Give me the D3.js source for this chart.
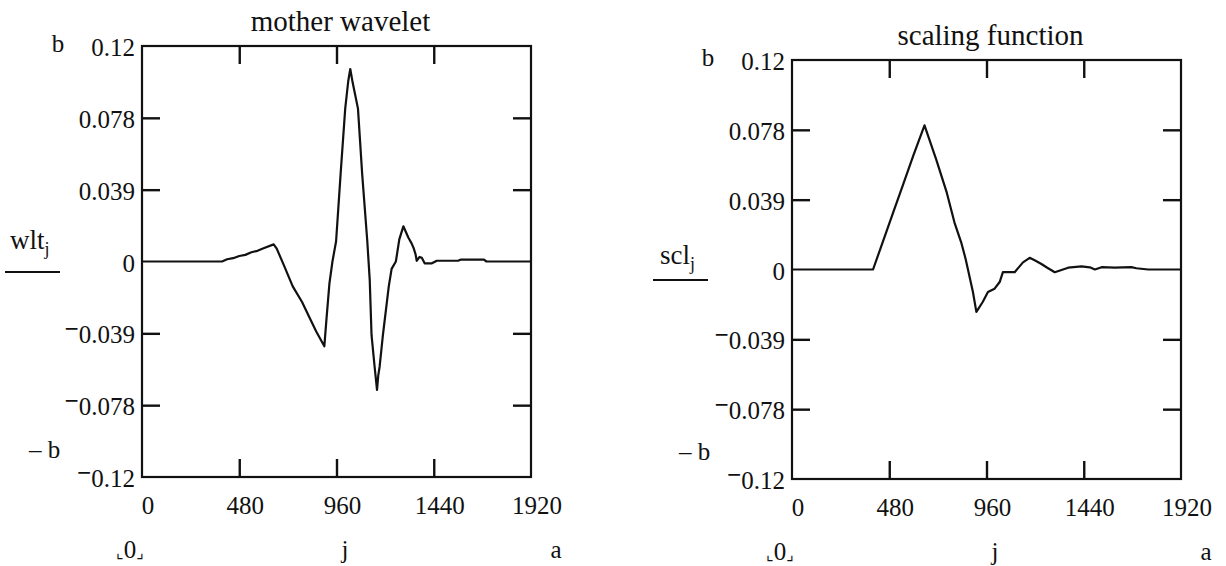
<!DOCTYPE html>
<html>
<head>
<meta charset="utf-8">
<script src="https://cdn.jsdelivr.net/npm/d3@7/dist/d3.min.js"></script>
<style>
  html, body { margin: 0; padding: 0; background: #fff; }
  svg { display: block; }
</style>
</head>
<body>
<svg id="chart" width="1226" height="566"></svg>
<script>
// ---------- data ----------
const xTickValues = [0, 480, 960, 1440, 1920];
const xTickLabels = ["0", "480", "960", "1440", "1920"];
const xInnerTicks = [480, 960, 1440];
const yTickValues = [-0.117, -0.078, -0.039, 0, 0.039, 0.078, 0.117];
const yTickLabels = ["−0.12", "−0.078", "−0.039", "0", "0.039", "0.078", "0.12"];
const yInnerTicks = [-0.078, -0.039, 0.039, 0.078];

const titles = ["mother wavelet", "scaling function"];
const yNames = ["wlt", "scl"];

const wltJ = [0, 395, 420, 450, 480, 510, 540, 570, 600, 650, 665, 700, 744, 790, 829, 860, 900,
  910, 925, 940, 958, 980, 1003, 1018, 1028, 1040, 1066, 1087, 1112, 1124, 1133, 1148, 1160,
  1166, 1173, 1189, 1218, 1232, 1253, 1270, 1290, 1315, 1330, 1340, 1350, 1356, 1370, 1381,
  1395, 1431, 1455, 1560, 1572, 1688, 1700, 1920];
const wltValues = [0, 0, 0.0012, 0.0018, 0.0030, 0.0036, 0.0050, 0.0058, 0.0072, 0.0093, 0.0070,
  -0.002, -0.0135, -0.022, -0.031, -0.038, -0.046,
  -0.032, -0.012, 0.0, 0.011, 0.047, 0.083, 0.098, 0.1045, 0.097, 0.083, 0.047, 0.011, -0.010,
  -0.040, -0.057, -0.0697,
  -0.062, -0.057, -0.040, -0.0135, -0.004, 0.0, 0.012, 0.0191, 0.0129, 0.010, 0.0075, 0.004,
  0.0004, 0.0025, 0.002, -0.001, -0.001, 0.0004, 0.0004, 0.001, 0.001, 0, 0];

const sclJ = [0, 400, 450, 500, 550, 600, 654, 712, 764, 802, 835, 857, 893, 910, 942, 967, 1000,
  1025, 1041, 1099, 1140, 1173, 1200, 1231, 1260, 1297, 1363, 1429, 1470, 1495, 1528, 1593,
  1675, 1700, 1758, 1920];
const sclValues = [0, 0, 0.016, 0.032, 0.048, 0.064, 0.0805, 0.0614, 0.0429, 0.0262, 0.0152,
  0.0059, -0.0126, -0.0237, -0.018, -0.0126, -0.0107, -0.007, -0.0015, -0.0015, 0.004, 0.0065,
  0.005, 0.0031, 0.001, -0.0015, 0.001, 0.0017, 0.0012, 0, 0.0013, 0.001, 0.0013, 0.0007, 0, 0];

// ---------- layout ----------
const panels = [
  { box: { x0: 142, x1: 531, y0: 46, y1: 477 }, title: titles[0], name: yNames[0],
    j: wltJ, v: wltValues, nameBase: 249, underY: 272, underX: [5, 60] },
  { box: { x0: 792, x1: 1181, y0: 60, y1: 479 }, title: titles[1], name: yNames[1],
    j: sclJ, v: sclValues, nameBase: 264, underY: 280, underX: [653, 708] }
];

const SERIF = "'Liberation Serif', 'Times New Roman', Times, serif";
const svg = d3.select("#chart");
const FS = 25;

function txt(g, x, y, anchor, size) {
  return g.append("text").attr("x", x).attr("y", y)
    .attr("text-anchor", anchor).attr("font-size", size)
    .attr("font-family", SERIF).attr("fill", "#111");
}

panels.forEach(p => {
  const b = p.box;
  const x = d3.scaleLinear().domain([0, 1920]).range([b.x0, b.x1]);
  const y = d3.scaleLinear().domain([-0.117, 0.117]).range([b.y1, b.y0]);
  const g = svg.append("g");

  // inner ticks via d3 axes
  const tick = 18;
  const axes = [
    d3.axisLeft(y).tickValues(yInnerTicks).tickSize(-tick).tickFormat(""),
    d3.axisRight(y).tickValues(yInnerTicks).tickSize(-tick).tickFormat(""),
    d3.axisTop(x).tickValues(xInnerTicks).tickSize(-tick).tickFormat(""),
    d3.axisBottom(x).tickValues(xInnerTicks).tickSize(-tick).tickFormat("")
  ];
  const tr = [`translate(${b.x0},0)`, `translate(${b.x1},0)`, `translate(0,${b.y0})`, `translate(0,${b.y1})`];
  axes.forEach((a, i) => {
    const ag = g.append("g").attr("transform", tr[i]).call(a);
    ag.select(".domain").remove();
    ag.selectAll("line").attr("stroke", "#111").attr("stroke-width", 2.4);
  });

  // frame
  g.append("rect").attr("x", b.x0).attr("y", b.y0)
    .attr("width", b.x1 - b.x0).attr("height", b.y1 - b.y0)
    .attr("fill", "none").attr("stroke", "#111").attr("stroke-width", 2.2);

  // curve
  const pts = p.j.map((d, i) => [d, p.v[i]]);
  g.append("path").datum(pts)
    .attr("fill", "none").attr("stroke", "#111").attr("stroke-width", 2.2)
    .attr("stroke-linejoin", "round")
    .attr("d", d3.line().x(d => x(d[0])).y(d => y(d[1])));

  // y tick labels
  yTickValues.forEach((v, i) => {
    const lab = yTickLabels[i];
    const t = txt(g, b.x0 - 7, y(v) + 10, "end", FS);
    if (lab.startsWith("−")) {
      t.append("tspan").text("−").attr("dy", -6).attr("font-weight", "bold");
      t.append("tspan").text(lab.slice(1)).attr("dy", 6);
    } else t.text(lab);
  });

  // x tick labels
  xTickValues.forEach((v, i) => {
    txt(g, x(v) + 6, b.y1 + 37, "middle", FS).text(xTickLabels[i]);
  });

  // title
  txt(g, (b.x0 + b.x1) / 2 + 4, b.y0 - 15, "middle", 29).text(p.title);

  // b / - b
  txt(g, b.x0 - 84, b.y0 + 6, "middle", FS).text("b");
  txt(g, b.x0 - 113, b.y1 - 19, "start", FS).text("– b");

  // y name with subscript
  const nt = txt(g, b.x0 - 132, p.nameBase, "start", 27);
  nt.append("tspan").text(p.name);
  nt.append("tspan").text("j").attr("font-size", 18).attr("dy", 6);
  g.append("line").attr("x1", p.underX[0]).attr("x2", p.underX[1])
    .attr("y1", p.underY).attr("y2", p.underY)
    .attr("stroke", "#111").attr("stroke-width", 2);

  // bottom row: ⌞0⌟, j, a
  const by = b.y1 + 81;
  const zt = txt(g, b.x0 - 12, by, "middle", FS);
  zt.append("tspan").text("⌞").attr("font-family", "DejaVu Sans").attr("font-size", 16);
  zt.append("tspan").text("0");
  zt.append("tspan").text("⌟").attr("font-family", "DejaVu Sans").attr("font-size", 16);
  txt(g, b.x0 + 203, by, "middle", FS).text("j");
  txt(g, b.x0 + 414, by, "middle", FS).text("a");
});
</script>
</body>
</html>
